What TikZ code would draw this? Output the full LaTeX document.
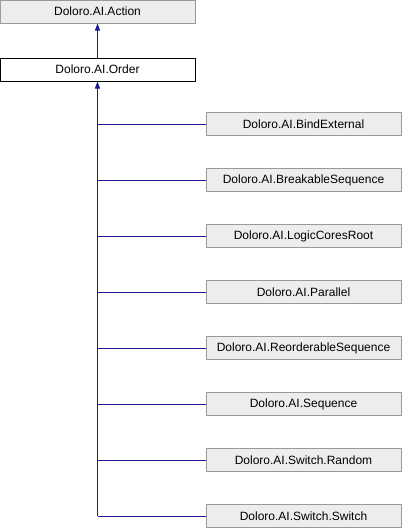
\documentclass[tikz,border=0pt]{standalone}
\usepackage{fontspec}
\setmainfont{Liberation Sans}
\usetikzlibrary{arrows.meta,positioning}

\definecolor{boxgray}{HTML}{EDEDED}
\definecolor{edgegray}{HTML}{9A9A9A}
\definecolor{linkblue}{HTML}{1A1A8C}

\tikzset{
  base/.style={draw=edgegray, fill=boxgray, rectangle, line width=1pt,
    minimum width=195pt, minimum height=23pt, inner sep=0pt,
    font=\fontsize{12}{14}\selectfont},
  current/.style={base, draw=black, fill=white},
  inherit/.style={draw=linkblue, line width=1pt, -{Triangle[length=7pt,width=5pt]}},
  link/.style={draw=linkblue, line width=1pt}
}

\begin{document}
\begin{tikzpicture}[x=1pt, y=1pt]
  \useasboundingbox (0,0) rectangle (402,-528);
  \node[base] (action) at (97.5,-11.5) {Doloro.AI.Action};
  \node[current, below=34pt of action] (order) {Doloro.AI.Order};
  \draw[inherit] (order) -- (action);

  % derived classes
  \foreach \name/\label [count=\i from 0] in {bind/BindExternal, breakable/BreakableSequence,
      logic/LogicCoresRoot, parallel/Parallel, reorder/ReorderableSequence,
      sequence/Sequence, random/Switch.Random, switch/Switch.Switch} {
    \node[base] (\name) at (303.5,{-124-56*\i}) {Doloro.AI.\label};
    \draw[link] (\name.west) -- (\name.west -| order.south);
  }
  \draw[inherit] (switch.west -| order.south) -- (order.south);
\end{tikzpicture}
\end{document}
